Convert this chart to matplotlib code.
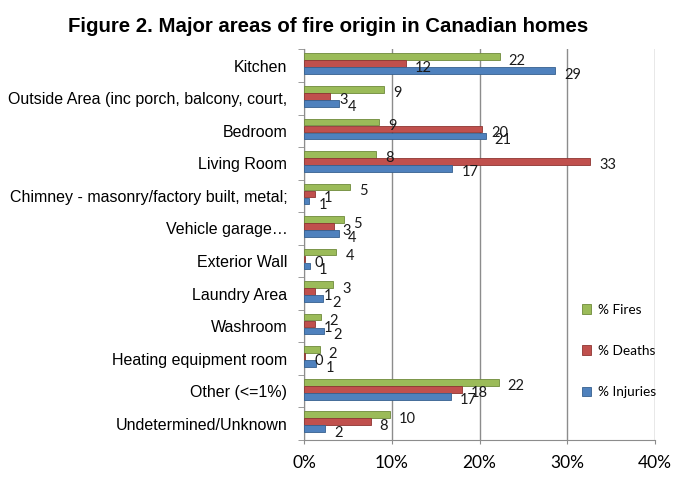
import matplotlib
matplotlib.use("Agg")
import matplotlib.pyplot as plt
import matplotlib.transforms as mtrans
import numpy as np

categories = ["Kitchen", "Outside Area (inc porch, balcony, court,", "Bedroom",
              "Living Room", "Chimney - masonry/factory built, metal;",
              "Vehicle garage\u2026", "Exterior Wall", "Laundry Area", "Washroom",
              "Heating equipment room", "Other (<=1%)", "Undetermined/Unknown"]
fires = [22.3, 9.1, 8.6, 8.2, 5.2, 4.6, 3.7, 3.3, 1.9, 1.8, 22.2, 9.8]
deaths = [11.6, 3.0, 20.3, 32.6, 1.2, 3.4, 0.15, 1.2, 1.2, 0.15, 18.0, 7.6]
injuries = [28.6, 4.0, 20.7, 16.9, 0.6, 4.0, 0.7, 2.2, 2.3, 1.4, 16.7, 2.4]
fires_lbl = [22, 9, 9, 8, 5, 5, 4, 3, 2, 2, 22, 10]
deaths_lbl = [12, 3, 20, 33, 1, 3, 0, 1, 1, 0, 18, 8]
injuries_lbl = [29, 4, 21, 17, 1, 4, 1, 2, 2, 1, 17, 2]
xticks = [0, 10, 20, 30, 40]

W, H = 680, 480
fig = plt.figure(figsize=(W / 100, H / 100), dpi=100)
L, R, T, B = 304, 655, 49.5, 440
ax = fig.add_axes([L / W, 1 - B / H, (R - L) / W, (B - T) / H])

green, red, blue = "#9BBB59", "#C0504D", "#4F81BD"
egreen, ered, eblue = "#6E8A3A", "#8E3532", "#36608F"

y = np.arange(len(categories))
h = 0.215
shift = -0.06
series = [(fires, fires_lbl, green, egreen, -h, "% Fires"),
          (deaths, deaths_lbl, red, ered, 0.0, "% Deaths"),
          (injuries, injuries_lbl, blue, eblue, h, "% Injuries")]
handles = []
for vals, lbls, col, ecol, off, name in series:
    bars = ax.barh(y + off + shift, vals, height=h * 0.95, color=col,
                   edgecolor=ecol, linewidth=0.6, label=name, zorder=3)
    handles.append(bars)
    for v, yy, lb in zip(vals, y + off + shift, lbls):
        ax.annotate(str(lb), (v, yy), xytext=(9, -4), textcoords="offset pixels",
                    ha="left", va="center", fontsize=10.5, family="Lato",
                    color="#1a1a1a", zorder=4)

ax.set_xlim(0, 40)
ax.set_ylim(len(categories) - 0.5, -0.5)
ax.set_xticks(xticks)
ax.set_xticklabels([f"{t}%" for t in xticks], family="Lato", fontsize=12.5)
shift_tf = mtrans.ScaledTranslation(4 / 100, 0, fig.dpi_scale_trans)
for lab in ax.get_xticklabels():
    lab.set_transform(lab.get_transform() + shift_tf)
ax.set_yticks(y)
ax.set_yticklabels(categories, family="Liberation Sans", fontsize=11.5)
ax.set_yticks(np.arange(-0.5, len(categories), 1), minor=True)
ax.tick_params(axis="y", which="major", length=0, pad=12)
ax.tick_params(axis="y", which="minor", length=4, color="#8c8c8c", direction="out")
ax.tick_params(axis="x", length=3, color="#8c8c8c", pad=8)
ax.grid(axis="x", color="#8c8c8c", linewidth=1.0, zorder=0)
for s in ["top", "right"]:
    ax.spines[s].set_visible(False)
for s in ["left", "bottom"]:
    ax.spines[s].set_color("#8c8c8c")

fig.text(328 / W, 1 - 27 / H, "Figure 2. Major areas of fire origin in Canadian homes",
         ha="center", va="center", fontsize=14.7, fontweight="bold",
         family="Liberation Sans")

leg = ax.legend(handles=handles, loc="center left",
                bbox_to_anchor=(575 / W, 1 - 351 / H), bbox_transform=fig.transFigure,
                frameon=False, prop={"family": "Lato", "size": 9.8},
                handlelength=0.7, handleheight=0.7, handletextpad=0.5,
                labelspacing=2.15, borderpad=0)

fig.savefig("out.png", dpi=100)
